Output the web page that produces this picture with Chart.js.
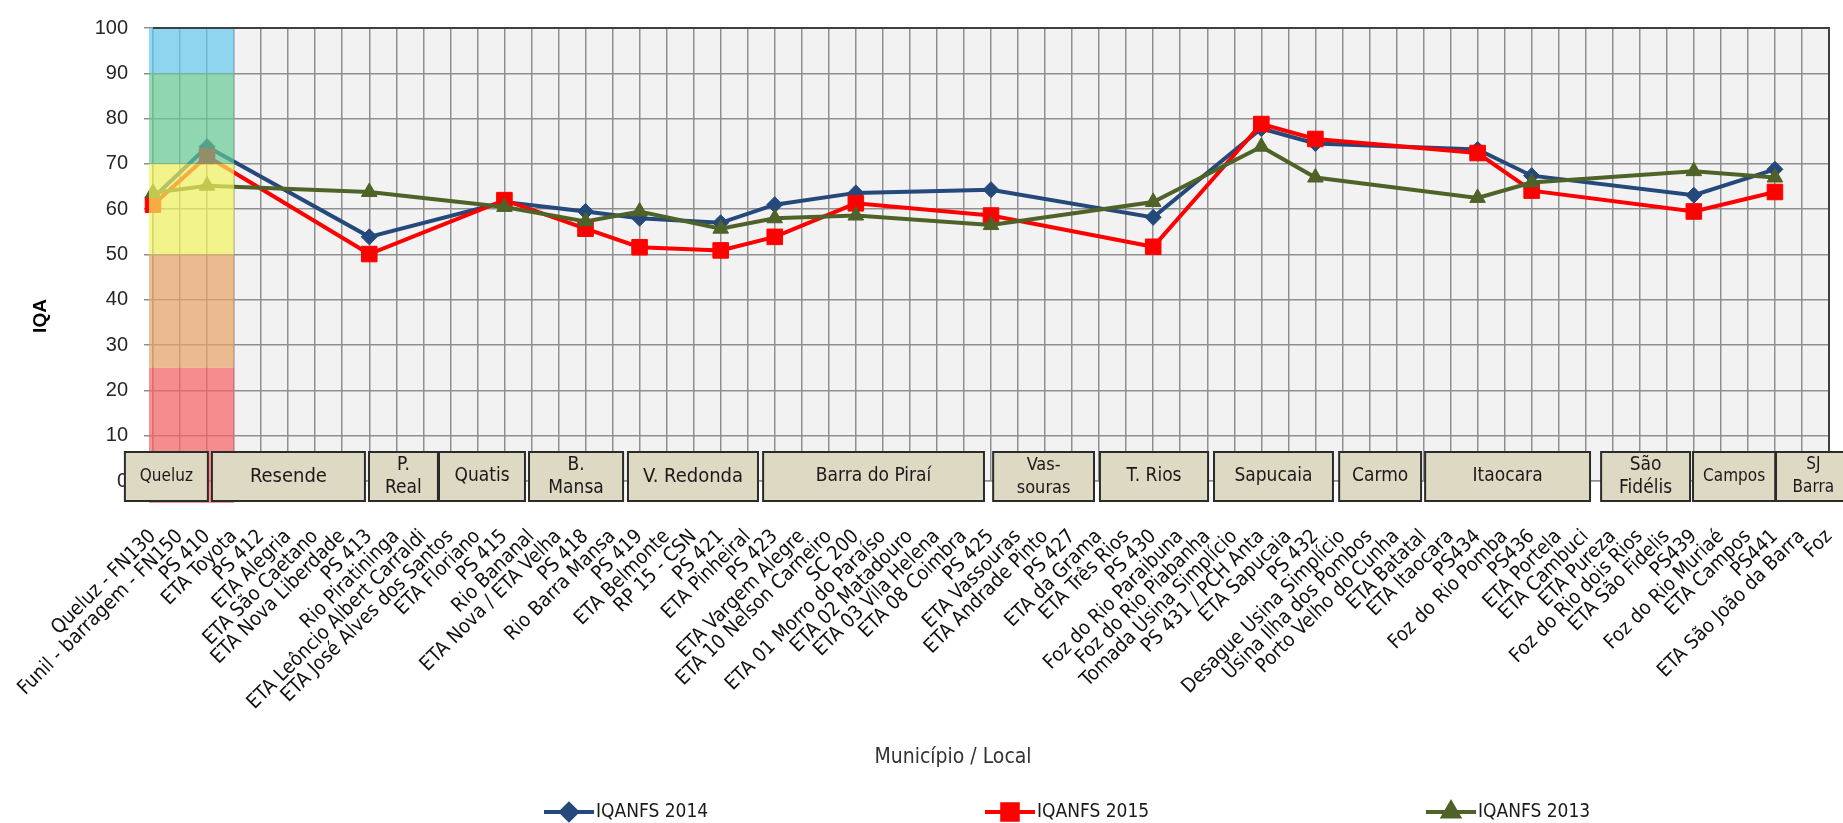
<!DOCTYPE html>
<html>
<head>
<meta charset="utf-8">
<script src="https://cdn.jsdelivr.net/npm/chart.js@4/dist/chart.umd.min.js"></script>
<style>
  html, body { margin: 0; padding: 0; background: #fff; }
  #wrap { width: 1843px; height: 823px; }
</style>
</head>
<body>
<div id="wrap"><canvas id="iqaChart" width="1843" height="823"></canvas></div>
<script>
// pontos de monitoramento (eixo x)
const pontos = [
    'Queluz - FN130', 'Funil - barragem - FN150', 'PS 410',
    'ETA Toyota', 'PS 412', 'ETA Alegria', 'ETA São Caetano', 'ETA Nova Liberdade',
    'PS 413', 'Rio Piratininga',
    'ETA Leôncio Albert Carraldi', 'ETA José Alves dos Santos', 'ETA Floriano',
    'PS 415', 'Rio Bananal', 'ETA Nova / ETA Velha', 'PS 418', 'Rio Barra Mansa',
    'PS 419', 'ETA Belmonte', 'RP 15 - CSN', 'PS 421', 'ETA Pinheiral',
    'PS 423', 'ETA Vargem Alegre', 'ETA 10 Nelson Carneiro', 'SC 200', 'ETA 01 Morro do Paraíso',
    'ETA 02 Matadouro', 'ETA 03 Vila Helena', 'ETA 08 Coimbra',
    'PS 425', 'ETA Vassouras', 'ETA Andrade Pinto', 'PS 427',
    'ETA da Grama', 'ETA Três Rios', 'PS 430', 'Foz do Rio Paraibuna',
    'Foz do Rio Piabanha', 'Tomada Usina Simplício', 'PS 431 / PCH Anta', 'ETA Sapucaia', 'PS 432',
    'Desague Usina Simplício', 'Usina Ilha dos Pombos', 'Porto Velho do Cunha',
    'ETA Batatal', 'ETA Itaocara', 'PS434', 'Foz do Rio Pomba', 'PS436', 'ETA Portela', 'ETA Cambuci',
    'ETA Pureza', 'Foz do Rio dois Rios', 'ETA São Fidelis',
    'PS439', 'Foz do Rio Muriaé', 'ETA Campos',
    'PS441', 'ETA São João da Barra', 'Foz'
];

// valores IQA por ponto (null = sem medição)
const iqa2014 = [
    62.5, null, 73.8,
    null, null, null, null, null,
    53.9, null,
    null, null, null,
    61.6, null, null, 59.5, null,
    58.0, null, null, 57.0, null,
    61.0, null, null, 63.6, null,
    null, null, null,
    64.3, null, null, null,
    null, null, 58.2, null,
    null, null, 77.8, null, 74.5,
    null, null, null,
    null, null, 73.2, null, 67.4, null, null,
    null, null, null,
    63.1, null, null,
    68.8, null, null
];
const iqa2015 = [
    61.0, null, 71.7,
    null, null, null, null, null,
    50.1, null,
    null, null, null,
    62.0, null, null, 55.7, null,
    51.6, null, null, 50.9, null,
    53.9, null, null, 61.3, null,
    null, null, null,
    58.6, null, null, null,
    null, null, 51.7, null,
    null, null, 78.8, null, 75.5,
    null, null, null,
    null, null, 72.4, null, 64.1, null, null,
    null, null, null,
    59.5, null, null,
    63.8, null, null
];
const iqa2013 = [
    63.6, null, 65.2,
    null, null, null, null, null,
    63.8, null,
    null, null, null,
    60.5, null, null, 57.3, null,
    59.5, null, null, 55.7, null,
    58.0, null, null, 58.6, null,
    null, null, null,
    56.5, null, null, null,
    null, null, 61.6, null,
    null, null, 73.8, null, 67.0,
    null, null, null,
    null, null, 62.5, null, 65.9, null, null,
    null, null, null,
    68.4, null, null,
    67.0, null, null
];

// municípios (caixas sobre o eixo x)
const municipios = [
    'Queluz', 'Resende', ['P.', 'Real'], 'Quatis', ['B.', 'Mansa'], 'V. Redonda',
    'Barra do Piraí', ['Vas-', 'souras'], 'T. Rios', 'Sapucaia', 'Carmo', 'Itaocara',
    ['São', 'Fidélis'], 'Campos', ['SJ', 'Barra']
];

// limites das classes de qualidade IQA
const classesIQA = [0, 25, 50, 70, 90, 100];

// --- layout / estilo ---
const estreita = "'Liberation Sans Narrow', 'DejaVu Sans Condensed', 'Liberation Sans', sans-serif";
const caixaColunas = [
    [-1.04, 2.03], [2.18, 7.84], [7.99, 10.54], [10.58, 13.76], [13.91, 17.39], [17.57, 22.38],
    [22.57, 30.74], [31.08, 34.81], [35.03, 39.03], [39.25, 43.65], [43.88, 46.91], [47.06, 53.16],
    [53.57, 56.86], [56.97, 60.01], [60.04, 62.8]
];
const caixaFonte = [17, 20, 19, 19, 19, 20, 19, 18, 19, 19, 19, 19, 19, 17, 17];
const coresClasses = [
    'rgba(246, 99, 100, 0.7)',
    'rgba(231, 164, 104, 0.7)',
    'rgba(244, 244, 96, 0.7)',
    'rgba(103, 202, 148, 0.7)',
    'rgba(100, 201, 239, 0.7)'
];

const fundoPlot = {
    id: 'fundoPlot',
    beforeDraw(chart) {
        const {ctx, chartArea: a} = chart;
        ctx.save();
        ctx.fillStyle = '#f2f2f2';
        ctx.fillRect(a.left, a.top, a.right - a.left, a.bottom - a.top);
        ctx.restore();
    }
};

const faixasIQA = {
    id: 'faixasIQA',
    afterDatasetsDraw(chart) {
        const {ctx, scales: {x, y}} = chart;
        const x1 = x.getPixelForValue(-0.15);
        const x2 = x.getPixelForValue(3);
        ctx.save();
        for (let i = 0; i < classesIQA.length - 1; i++) {
            let yb = y.getPixelForValue(classesIQA[i]);
            const yt = y.getPixelForValue(classesIQA[i + 1]);
            if (i === 0) yb += 22;
            ctx.fillStyle = coresClasses[i];
            ctx.fillRect(x1, yt, x2 - x1, yb - yt);
        }
        ctx.restore();
    }
};

const extras = {
    id: 'extras',
    afterDraw(chart) {
        const {ctx, chartArea: a, scales: {x}} = chart;
        ctx.save();

        // moldura escura (topo e direita)
        ctx.strokeStyle = '#404040';
        ctx.lineWidth = 2;
        ctx.beginPath();
        ctx.moveTo(a.left, a.top);
        ctx.lineTo(a.right, a.top);
        ctx.lineTo(a.right, a.bottom);
        ctx.stroke();

        // caixas dos municípios
        const top = a.bottom - 29, bottom = a.bottom + 20;
        municipios.forEach((nome, i) => {
            const x1 = x.getPixelForValue(caixaColunas[i][0]);
            const x2 = x.getPixelForValue(caixaColunas[i][1]);
            ctx.fillStyle = '#ddd9c3';
            ctx.fillRect(x1, top, x2 - x1, bottom - top);
            ctx.strokeStyle = '#2b2b2b';
            ctx.lineWidth = 2;
            ctx.strokeRect(x1, top, x2 - x1, bottom - top);
            ctx.fillStyle = '#1a1a1a';
            ctx.font = caixaFonte[i] + 'px ' + estreita;
            ctx.textAlign = 'center';
            ctx.textBaseline = 'middle';
            const cx = (x1 + x2) / 2;
            if (Array.isArray(nome)) {
                ctx.fillText(nome[0], cx, top + 13);
                ctx.fillText(nome[1], cx, top + 36);
            } else {
                ctx.fillText(nome, cx, (top + bottom) / 2);
            }
        });

        // título do eixo x
        ctx.fillStyle = '#333';
        ctx.font = '21px ' + estreita;
        ctx.fillText('Município / Local', 953, 758);

        // título do eixo y
        ctx.translate(41, 316);
        ctx.rotate(-Math.PI / 2);
        ctx.fillStyle = '#000';
        ctx.font = "bold 19px 'Liberation Sans', sans-serif";
        ctx.textAlign = 'center';
        ctx.textBaseline = 'middle';
        ctx.fillText('IQA', 0, 0);
        ctx.restore();

        // legenda
        ctx.save();
        let lx = 544;
        chart.data.datasets.forEach(ds => {
            const ly = 812;
            ctx.strokeStyle = ds.borderColor;
            ctx.lineWidth = 4;
            ctx.beginPath();
            ctx.moveTo(lx, ly);
            ctx.lineTo(lx + 50, ly);
            ctx.stroke();
            ctx.fillStyle = ds.backgroundColor;
            Chart.helpers.drawPoint(ctx, {pointStyle: ds.pointStyle, radius: ds.pointRadius, borderWidth: 1, rotation: 0}, lx + 25, ly);
            ctx.fillStyle = '#1a1a1a';
            ctx.font = '19px ' + estreita;
            ctx.textAlign = 'left';
            ctx.textBaseline = 'middle';
            ctx.fillText(ds.label, lx + 52, ly);
            lx += 441;
        });
        ctx.restore();
    }
};

const ctx = document.getElementById('iqaChart').getContext('2d');
new Chart(ctx, {
    type: 'line',
    data: {
        labels: pontos,
        datasets: [
            {
                label: 'IQANFS 2014',
                data: iqa2014,
                borderColor: '#24497a',
                backgroundColor: '#24497a',
                pointStyle: 'rectRot',
                pointRadius: 8,
                order: 2
            },
            {
                label: 'IQANFS 2015',
                data: iqa2015,
                borderColor: '#ff0000',
                backgroundColor: '#ff0000',
                pointStyle: 'rect',
                pointRadius: 11,
                order: 1
            },
            {
                label: 'IQANFS 2013',
                data: iqa2013,
                borderColor: '#4f6228',
                backgroundColor: '#4f6228',
                pointStyle: 'triangle',
                pointRadius: 9,
                order: 0
            }
        ]
    },
    options: {
        responsive: false,
        animation: false,
        spanGaps: true,
        clip: false,
        layout: {
            padding: { top: 19, right: 14, bottom: 45, left: 0 }
        },
        elements: {
            line: { borderWidth: 4, tension: 0 },
            point: { borderWidth: 1, hoverRadius: 8 }
        },
        plugins: {
            legend: { display: false },
            tooltip: { enabled: false }
        },
        scales: {
            x: {
                offset: false,
                grid: { color: '#8f8f8f', lineWidth: 1.5, drawTicks: false },
                border: { color: '#8f8f8f', width: 1.5 },
                ticks: {
                    autoSkip: false,
                    minRotation: 45,
                    maxRotation: 45,
                    padding: 44,
                    color: '#111',
                    font: { family: estreita, size: 20 }
                },
                afterFit: (scale) => {
                    scale.height = 297;
                    scale.paddingLeft = 0;
                    scale.paddingRight = 0;
                }
            },
            y: {
                min: 0,
                max: 100,
                ticks: {
                    stepSize: 10,
                    padding: 16,
                    color: '#262626',
                    font: { family: "'Liberation Sans', sans-serif", size: 20 }
                },
                grid: { color: '#8f8f8f', lineWidth: 1.5, tickLength: 9 },
                border: { color: '#8f8f8f', width: 1.5 },
                afterFit: (scale) => { scale.width = 153; }
            }
        }
    },
    plugins: [fundoPlot, faixasIQA, extras]
});
</script>
</body>
</html>
